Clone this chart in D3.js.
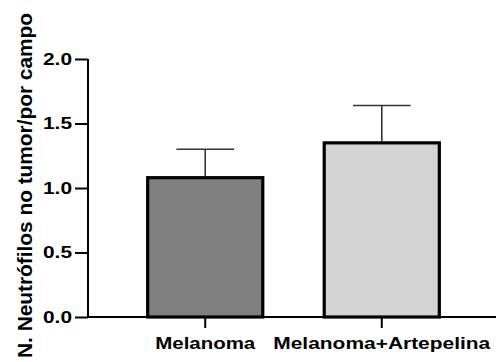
<!DOCTYPE html>
<html>
<head>
<meta charset="utf-8">
<script src="https://cdn.jsdelivr.net/npm/d3@7"></script>
<style>
  html, body { margin: 0; padding: 0; background: #fff; }
  svg { display: block; font-family: "Liberation Sans", Arial, Helvetica, sans-serif; }
</style>
</head>
<body>
<svg id="chart" width="496" height="362"></svg>
<script>
// Neutrophil counts per field, mean + SEM
const categories = ["Melanoma", "Melanoma+Artepelina"];
const means = [1.08, 1.35];
const sems = [0.22, 0.29];
const fills = ["#808080", "#d4d4d4"];
const yTicks = [0, 0.5, 1.0, 1.5, 2.0];
const yTitle = "N. Neutrófilos no tumor/por campo";

const svg = d3.select("#chart");
const axisX = 88, baseY = 317, topY = 59;

const y = d3.scaleLinear().domain([0, 2]).range([baseY, topY]);
const x = d3.scaleBand().domain(categories)
  .range([axisX, 499]).paddingInner(0.348).paddingOuter(0.338);

// bars
svg.append("g").selectAll("rect").data(categories).join("rect")
  .attr("x", d => x(d))
  .attr("y", (d, i) => y(means[i]))
  .attr("width", x.bandwidth())
  .attr("height", (d, i) => y(0) - y(means[i]))
  .attr("fill", (d, i) => fills[i])
  .attr("stroke", "#000")
  .attr("stroke-width", 3.2);

// upward error bars
const capW = x.bandwidth() * 0.5;
const eb = svg.append("g").attr("stroke", "#333").attr("stroke-width", 1.6);
categories.forEach((c, i) => {
  const cx = x(c) + x.bandwidth() / 2;
  eb.append("line").attr("x1", cx).attr("x2", cx)
    .attr("y1", y(means[i]) - 1.6).attr("y2", y(means[i] + sems[i]));
  eb.append("line").attr("x1", cx - capW / 2).attr("x2", cx + capW / 2)
    .attr("y1", y(means[i] + sems[i])).attr("y2", y(means[i] + sems[i]));
});

// y axis
const yAxis = svg.append("g").attr("transform", `translate(${axisX},0)`)
  .call(d3.axisLeft(y).tickValues(yTicks).tickFormat(d3.format(".1f")).tickSize(13).tickPadding(3));
yAxis.select(".domain").attr("d", `M0,${topY}V${baseY}`).attr("stroke", "#000").attr("stroke-width", 2);
yAxis.selectAll(".tick line").attr("stroke", "#000").attr("stroke-width", 2);
yAxis.selectAll(".tick text")
  .attr("fill", "#000").attr("font-size", 17).attr("font-weight", "bold")
  .attr("font-family", "'Liberation Sans', Arial, sans-serif")
  .attr("textLength", 29).attr("lengthAdjust", "spacingAndGlyphs");

// x axis
const xAxis = svg.append("g").attr("transform", `translate(0,${baseY})`)
  .call(d3.axisBottom(x).tickSize(11).tickPadding(8));
xAxis.select(".domain").attr("d", `M${axisX},0H496`).attr("stroke", "#000").attr("stroke-width", 2);
xAxis.selectAll(".tick line").attr("stroke", "#000").attr("stroke-width", 2);
const labelW = [100, 217];
xAxis.selectAll(".tick text")
  .attr("fill", "#000").attr("font-size", 17).attr("font-weight", "bold")
  .attr("font-family", "'Liberation Sans', Arial, sans-serif")
  .attr("dy", "0.78em")
  .attr("textLength", (d, i) => labelW[i]).attr("lengthAdjust", "spacingAndGlyphs");

// y title
svg.append("text")
  .attr("transform", `translate(32,${(13 + 358) / 2}) rotate(-90)`)
  .attr("text-anchor", "middle")
  .attr("font-size", 21).attr("font-weight", "bold").attr("fill", "#000")
  .attr("textLength", 345).attr("lengthAdjust", "spacingAndGlyphs")
  .text(yTitle);
</script>
</body>
</html>
